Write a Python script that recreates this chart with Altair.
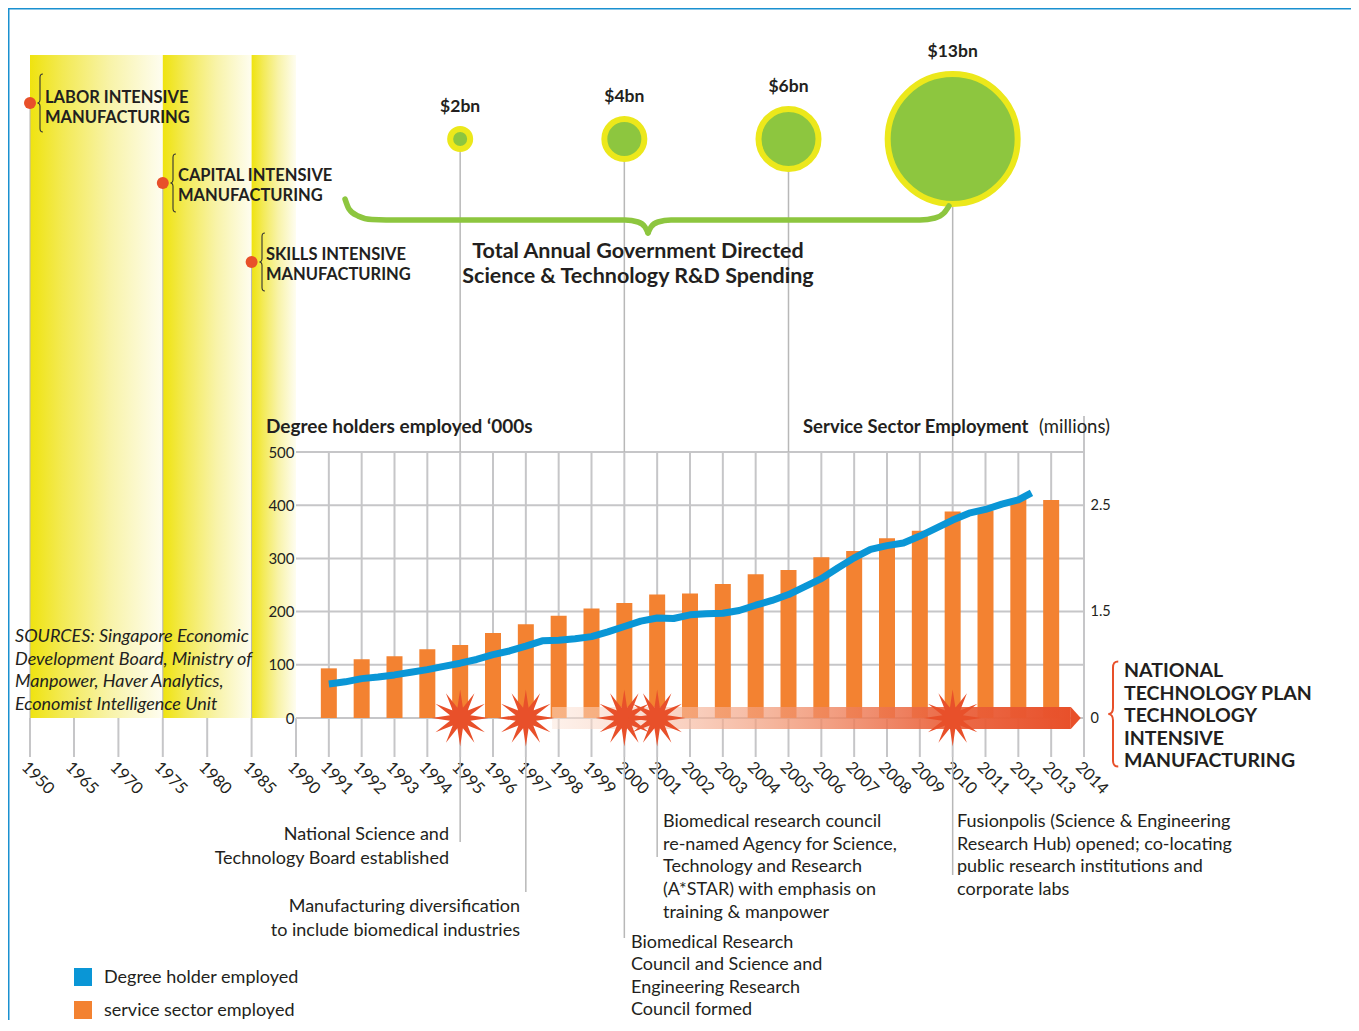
import math
import altair as alt
import pandas as pd

# ---------------- data ----------------
BAR_YEARS = list(range(1991, 2014))
SERVICE_MILLIONS = [0.70, 0.83, 0.87, 0.97, 1.03, 1.20, 1.32, 1.44, 1.53, 1.58,
                    1.66, 1.67, 1.76, 1.85, 1.89, 2.01, 2.07, 2.19, 2.26, 2.44,
                    2.45, 2.56, 2.55]

DEG_X = [1991, 1991.5, 1992, 1992.5, 1993, 1993.5, 1994, 1994.5, 1995, 1995.5,
         1996, 1996.5, 1997, 1997.5, 1998, 1998.5, 1999, 1999.5, 2000, 2000.5,
         2001, 2001.5, 2002, 2002.5, 2003, 2003.5, 2004, 2004.5, 2005, 2005.5,
         2006, 2006.5, 2007, 2007.5, 2008, 2008.5, 2009, 2009.5, 2010, 2010.5,
         2011, 2011.5, 2012, 2012.4]
DEG_THOUSANDS = [64, 68, 74, 77, 81, 86, 91, 97, 103, 110,
                 119, 126, 135, 145, 146, 149, 153, 162, 172, 182,
                 188, 187, 194, 196, 197, 202, 212, 221, 232, 247,
                 262, 282, 301, 317, 324, 329, 342, 357, 372, 385,
                 392, 402, 410, 423]

TICK_YEARS = [1950, 1965, 1970, 1975, 1980, 1985] + list(range(1990, 2015))
GRID_YEARS = list(range(1991, 2015))
GRID_VALUES = [0, 100, 200, 300, 400, 500]
RIGHT_TICKS = [0, 1.5, 2.5]

SPEND_YEARS = [1995, 2000, 2005, 2010]
SPEND_BN = [2, 4, 6, 13]
SPEND_LABELS = ["$2bn", "$4bn", "$6bn", "$13bn"]
SPEND_TITLE = "Total Annual Government Directed\nScience & Technology R&D Spending"

EVENT_YEARS = [1995, 1997, 2000, 2001, 2010]
EVENT_TEXTS = [
    "National Science and\nTechnology Board established",
    "Manufacturing diversification\nto include biomedical industries",
    "Biomedical Research\nCouncil and Science and\nEngineering Research\nCouncil formed",
    "Biomedical research council\nre-named Agency for Science,\nTechnology and Research\n(A*STAR) with emphasis on\ntraining & manpower",
    "Fusionpolis (Science & Engineering\nResearch Hub) opened; co-locating\npublic research institutions and\ncorporate labs",
]

ERA_START = [1950, 1975, 1985]
ERA_END = [1975, 1985, 1990]
ERA_LABELS = ["LABOR INTENSIVE\nMANUFACTURING",
              "CAPITAL INTENSIVE\nMANUFACTURING",
              "SKILLS INTENSIVE\nMANUFACTURING"]

NTP_START, NTP_END = 1997.8, 2013.6
NTP_LABEL = "NATIONAL\nTECHNOLOGY PLAN\nTECHNOLOGY\nINTENSIVE\nMANUFACTURING"

LEFT_TITLE = "Degree holders employed \u2018000s"
RIGHT_TITLE_A = "Service Sector Employment"
RIGHT_TITLE_B = "(millions)"
SOURCES = ("SOURCES: Singapore Economic\nDevelopment Board, Ministry of\n"
           "Manpower, Haver Analytics,\nEconomist Intelligence Unit")
LEGEND_LABELS = ["Degree holder employed", "service sector employed"]

# ---------------- styling / layout ----------------
FONT = "Lato"
INK = "#231f20"
BLUE = "#0a96d6"
ORANGE = "#f38231"
RED = "#e8502a"
GREEN = "#8dc63f"
YELLOW = "#ece81b"
GRID = "#c6c6c8"
FRAME = "#1a90d0"

OX, OY = 30, 40           # page position of plot origin
W, H = 1054, 678


def px(x):
    return x - OX


def py(y):
    return y - OY


X_SCALE = alt.Scale(domain=[1950, 1965, 1990, 2014], range=[0, 44, 266, 1054],
                    nice=False, zero=False, padding=0)
Y_SCALE = alt.Scale(domain=[0, 500], range=[678, 412], nice=False, zero=False,
                    padding=0)
Y_SCALE_M = alt.Scale(domain=[0, 1.5, 2.5], range=[678, 571.6, 465.2],
                      nice=False, zero=False, padding=0)

# 12-point starburst and curly-brace shapes
_pts = []
for i in range(24):
    a = 2 * math.pi * i / 24 - math.pi / 2
    r = 1.0 if i % 2 == 0 else 0.37
    _pts.append(f"{r * math.cos(a):.3f},{r * math.sin(a):.3f}")
STAR = "M" + " L".join(_pts) + " Z"
BRACE = ("M0.10,-1 C0.02,-1 0,-0.96 0,-0.88 L0,-0.12 C0,-0.05 -0.03,0 -0.09,0 "
         "C-0.03,0 0,0.05 0,0.12 L0,0.88 C0,0.96 0.02,1 0.10,1")
ARROW_TIP = "M0,-1 L0.9,0 L0,1 Z"

YELLOW_GRAD = {"gradient": "linear", "x1": 0, "x2": 1, "y1": 0, "y2": 0,
               "stops": [{"offset": 0, "color": "#efe30f"},
                         {"offset": 0.25, "color": "#f3ea55"},
                         {"offset": 0.6, "color": "#f8f3a8"},
                         {"offset": 1, "color": "#fefdf0"}]}
RED_GRAD = {"gradient": "linear", "x1": 0, "x2": 1, "y1": 0, "y2": 0,
            "stops": [{"offset": 0, "color": "rgba(252,228,215,0.5)"},
                      {"offset": 0.45, "color": "rgba(241,150,115,0.75)"},
                      {"offset": 0.75, "color": "rgba(234,98,60,0.92)"},
                      {"offset": 1, "color": RED}]}


def one():
    return pd.DataFrame({"k": [0]})


def text_layer(text, x, y, size=18, weight="normal", align="left",
               style="normal", color=INK, lh=None):
    return alt.Chart(pd.DataFrame({"t": [text]})).mark_text(
        align=align, baseline="alphabetic", font=FONT, fontSize=size,
        fontWeight=weight, fontStyle=style, color=color, lineBreak="\n",
        lineHeight=lh if lh else size * 1.3
    ).encode(x=alt.value(px(x)), y=alt.value(py(y)), text="t:N")


# ---------------- under layers ----------------
frame = alt.layer(
    alt.Chart(one()).mark_rule(color=FRAME, strokeWidth=1.5).encode(
        x=alt.value(px(8.75)), y=alt.value(py(8)), y2=alt.value(py(1031))),
    alt.Chart(one()).mark_rule(color=FRAME, strokeWidth=1.5).encode(
        y=alt.value(py(8.75)), x=alt.value(px(8)), x2=alt.value(px(1351))),
)

eras = pd.DataFrame({"start": ERA_START, "end": ERA_END, "label": ERA_LABELS,
                     "doty": [py(103), py(183), py(262)],
                     "bracex": [px(40), px(173), px(262)]})

bands = alt.Chart(eras).mark_rect(fill=YELLOW_GRAD).encode(
    x=alt.X("start:Q", scale=X_SCALE, axis=None), x2="end:Q",
    y=alt.value(py(55)), y2=alt.value(H))

era_lines = alt.Chart(eras).mark_rule(color="#b5b5b5", strokeWidth=1).encode(
    x=alt.X("start:Q", scale=X_SCALE, axis=None),
    y=alt.Y("doty:Q", scale=None), y2=alt.value(H))

hgrid = alt.Chart(pd.DataFrame({"v": GRID_VALUES})).mark_rule(
    color=GRID, strokeWidth=2).encode(
    y=alt.Y("v:Q", scale=Y_SCALE, axis=None),
    x=alt.X(datum=1990, scale=X_SCALE, axis=None), x2=alt.datum(2014))

vgrid = alt.Chart(pd.DataFrame({"yr": GRID_YEARS})).mark_rule(
    color=GRID, strokeWidth=2).encode(
    x=alt.X("yr:Q", scale=X_SCALE, axis=None),
    y=alt.Y(datum=0, scale=Y_SCALE, axis=None), y2=alt.datum(500))

ticks_df = pd.DataFrame({"yr": TICK_YEARS})
xticks = alt.Chart(ticks_df).mark_rule(color=GRID, strokeWidth=2).encode(
    x=alt.X("yr:Q", scale=X_SCALE, axis=None),
    y=alt.Y(datum=0, scale=Y_SCALE, axis=None), y2=alt.value(py(757)))
xlabels = alt.Chart(ticks_df).mark_text(
    angle=45, align="left", baseline="top", font=FONT, fontSize=16.5,
    color=INK).encode(
    x=alt.X("yr:Q", scale=X_SCALE, axis=None), y=alt.value(py(759)),
    text=alt.Text("yr:Q", format="d"))

spend = pd.DataFrame({"yr": SPEND_YEARS, "v": SPEND_BN, "lab": SPEND_LABELS})

stems = alt.Chart(spend).mark_rule(color="#b8b8b8", strokeWidth=1.5).encode(
    x=alt.X("yr:Q", scale=X_SCALE, axis=None),
    y=alt.value(py(139)), y2=alt.value(py(452)))

edge2014 = alt.Chart(one()).mark_rule(color=GRID, strokeWidth=2).encode(
    x=alt.X(datum=2014, scale=X_SCALE, axis=None),
    y=alt.value(py(416)), y2=alt.value(py(452)))

events = pd.DataFrame({"yr": EVENT_YEARS, "txt": EVENT_TEXTS,
                       "end": [py(842), py(892), py(938), py(857), py(875)]})

event_lines = alt.Chart(events).mark_rule(color="#b8b8b8", strokeWidth=1.5).encode(
    x=alt.X("yr:Q", scale=X_SCALE, axis=None),
    y=alt.Y("end:Q", scale=None), y2=alt.value(py(757)))

under = alt.layer(frame, bands, era_lines, hgrid, vgrid, xticks, xlabels,
                  stems, edge2014, event_lines)

# ---------------- bars (right axis) ----------------
bars = alt.Chart(pd.DataFrame({"yr": BAR_YEARS, "m": SERVICE_MILLIONS})).mark_bar(
    size=16, color=ORANGE).encode(
    x=alt.X("yr:Q", scale=X_SCALE, axis=None),
    y=alt.Y("m:Q", scale=Y_SCALE_M,
            axis=alt.Axis(orient="right", values=RIGHT_TICKS, format=".1~f",
                          title=None, domain=False, ticks=False, tickSize=0,
                          grid=False, labelPadding=6, labelFontSize=14.5,
                          labelFont=FONT, labelColor=INK, zindex=1)))

# ---------------- over layers ----------------
ntp = pd.DataFrame({"s": [NTP_START], "e": [NTP_END]})
ntp_band = alt.Chart(ntp).mark_rect(fill=RED_GRAD).encode(
    x=alt.X("s:Q", scale=X_SCALE, axis=None), x2="e:Q",
    y=alt.value(H - 11), y2=alt.value(H + 11))
ntp_tip = alt.Chart(ntp).mark_point(
    shape=ARROW_TIP, filled=True, fill=RED, opacity=1, size=484).encode(
    x=alt.X("e:Q", scale=X_SCALE, axis=None), y=alt.value(H))

deg_line = alt.Chart(pd.DataFrame({"yr": DEG_X, "d": DEG_THOUSANDS})).mark_line(
    color=BLUE, strokeWidth=7, strokeJoin="round").encode(
    x=alt.X("yr:Q", scale=X_SCALE, axis=None),
    y=alt.Y("d:Q", scale=Y_SCALE,
            axis=alt.Axis(orient="left", values=GRID_VALUES, title=None,
                          offset=-266, domain=False, ticks=False, tickSize=0,
                          grid=False, labelPadding=2, labelFontSize=15,
                          labelFont=FONT, labelColor=INK, zindex=1)))

stars = alt.Chart(events).mark_point(
    shape=STAR, filled=True, fill=RED, opacity=1, size=3249).encode(
    x=alt.X("yr:Q", scale=X_SCALE, axis=None),
    y=alt.Y(datum=0, scale=Y_SCALE, axis=None))

bubbles = alt.Chart(spend).mark_point(
    shape="circle", filled=True, fill=GREEN, stroke=YELLOW, strokeWidth=6,
    opacity=1).encode(
    x=alt.X("yr:Q", scale=X_SCALE, axis=None), y=alt.value(py(139)),
    size=alt.Size("v:Q", scale=alt.Scale(type="pow", exponent=2,
                                         domain=[0, 13], range=[0, 16900]),
                  legend=None))

bubble_labels = alt.Chart(spend).transform_calculate(
    ly=f"{py(139)} - (65 * datum.v / 13 + 3) - 14").mark_text(
    font=FONT, fontSize=17.5, fontWeight="bold", color=INK, align="center",
    baseline="alphabetic").encode(
    x=alt.X("yr:Q", scale=X_SCALE, axis=None),
    y=alt.Y("ly:Q", scale=None), text="lab:N")

brace_pts = pd.DataFrame({
    "part": ["a"] * 9 + ["b"] * 8,
    "bx": [345, 349, 358, 372, 400, 625, 638, 645, 648,
           648, 651, 658, 671, 920, 935, 944, 949],
    "by": [199, 209, 216, 219.5, 220, 220, 222, 227, 233,
           233, 227, 222, 220, 220, 218, 213, 206]})
brace_pts["bx"] = brace_pts["bx"] - OX
brace_pts["by"] = brace_pts["by"] - OY
green_brace = alt.Chart(brace_pts).mark_line(
    color=GREEN, strokeWidth=5.5, interpolate="monotone", strokeCap="round").encode(
    x=alt.X("bx:Q", scale=None), y=alt.Y("by:Q", scale=None), detail="part:N")

era_dots = alt.Chart(eras).mark_circle(color=RED, opacity=1, size=144).encode(
    x=alt.X("start:Q", scale=X_SCALE, axis=None), y=alt.Y("doty:Q", scale=None))

era_braces = alt.Chart(eras).mark_point(
    shape=BRACE, filled=False, color="#333333", strokeWidth=1.1, opacity=1,
    size=3364).encode(
    x=alt.X("bracex:Q", scale=None), y=alt.Y("doty:Q", scale=None))

era_text_layers = [
    text_layer(ERA_LABELS[0], 45, 103, size=16.5, weight="bold", lh=19.5),
    text_layer(ERA_LABELS[1], 178, 181, size=16.5, weight="bold", lh=19.5),
    text_layer(ERA_LABELS[2], 266, 260, size=16.5, weight="bold", lh=19.5),
]

right_brace = alt.Chart(one()).mark_point(
    shape=BRACE, filled=False, color=RED, strokeWidth=2, opacity=1,
    size=11025).encode(x=alt.value(px(1113)), y=alt.value(py(714)))

event_text_layers = [
    text_layer(EVENT_TEXTS[0], 449, 840, align="right", lh=23.5),
    text_layer(EVENT_TEXTS[1], 520, 912, align="right", lh=23.5),
    text_layer(EVENT_TEXTS[2], 631, 948, align="left", lh=22.4),
    text_layer(EVENT_TEXTS[3], 663, 827, align="left", lh=22.7),
    text_layer(EVENT_TEXTS[4], 957, 827, align="left", lh=22.7),
]

misc_texts = [
    text_layer(SPEND_TITLE, 638, 258, size=21.5, weight="bold", align="center", lh=25),
    text_layer(LEFT_TITLE, 266, 433, size=19, weight="bold"),
    text_layer(RIGHT_TITLE_A, 803, 433, size=18.5, weight="bold"),
    text_layer(RIGHT_TITLE_B, 1110, 433, size=18.5, align="right"),
    text_layer(SOURCES, 15, 642, size=18, style="italic", lh=22.5),
    text_layer(NTP_LABEL, 1124, 677, size=19.5, weight="bold", lh=22.6),
]

legend_df = pd.DataFrame({"lab": LEGEND_LABELS, "c": [BLUE, ORANGE],
                          "ly": [py(977), py(1010)]})
legend_sq = alt.Chart(legend_df).mark_square(size=324, opacity=1).encode(
    x=alt.value(px(83)), y=alt.Y("ly:Q", scale=None),
    color=alt.Color("c:N", scale=None))
legend_tx = alt.Chart(legend_df).mark_text(
    align="left", baseline="middle", font=FONT, fontSize=18, color=INK, dy=1).encode(
    x=alt.value(px(104)), y=alt.Y("ly:Q", scale=None), text="lab:N")

band_group = alt.layer(ntp_band, ntp_tip)
over = alt.layer(stars, bubbles, bubble_labels,
                 green_brace, era_dots, era_braces, *era_text_layers,
                 right_brace, *event_text_layers, *misc_texts,
                 legend_sq, legend_tx)

chart = alt.layer(under, bars, band_group, deg_line, over).resolve_scale(
    y="independent").properties(
    width=W, height=H,
    autosize=alt.AutoSizeParams(type="none"),
    padding={"left": 22, "top": 32, "right": 267, "bottom": 302},
    background="white",
).configure_view(stroke=None)

chart.save("out.html", embed_options={"renderer": "svg", "actions": False})
